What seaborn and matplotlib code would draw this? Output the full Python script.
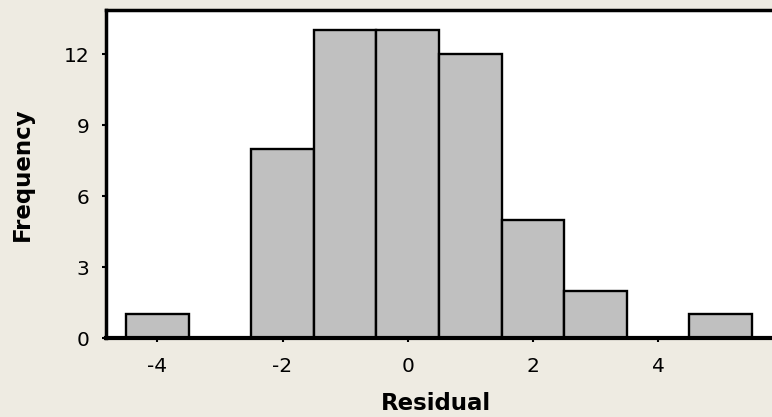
import numpy as np
import pandas as pd
import matplotlib
matplotlib.use("Agg")
import matplotlib.pyplot as plt
import seaborn as sns

# Residual histogram: bin centres and counts
bin_centers = [-4, -3, -2, -1, 0, 1, 2, 3, 4, 5]
counts = [1, 0, 8, 13, 13, 12, 5, 2, 0, 1]
x_ticks = [-4, -2, 0, 2, 4]
y_ticks = [0, 3, 6, 9, 12]

df = pd.DataFrame({"Residual": bin_centers, "Frequency": counts})
bin_edges = list(np.arange(min(bin_centers) - 0.5, max(bin_centers) + 1.0, 1.0))

sns.set_style("white")
plt.rcParams["font.family"] = ["DejaVu Sans"]
plt.rcParams["axes.unicode_minus"] = False

bg = "#EEEBE2"
W, H = 772, 417
fig = plt.figure(figsize=(W / 100, H / 100), dpi=100, facecolor=bg)
left_px, right_px, top_px, bottom_px = 106, 775, 10, 338
ax = fig.add_axes([left_px / W, 1 - bottom_px / H,
                   (right_px - left_px) / W, (bottom_px - top_px) / H])
ax.set_facecolor("white")

sns.histplot(data=df, x="Residual", weights="Frequency", bins=bin_edges, ax=ax,
             color="#C0C0C0", alpha=1.0, edgecolor="black", linewidth=1.7)

ax.set_xlim(-4.82, 5.867)
ax.set_ylim(0, 13.86)
ax.set_xticks(x_ticks)
ax.set_yticks(y_ticks)
ax.tick_params(axis="both", direction="out", length=3, width=1.5,
               labelsize=14.5, colors="black")
ax.tick_params(axis="x", pad=11)
ax.tick_params(axis="y", pad=9)
ax.tick_params(bottom=True, left=True)

for side in ["left", "top", "bottom"]:
    ax.spines[side].set_visible(True)
    ax.spines[side].set_color("black")
    ax.spines[side].set_linewidth(2.5)
ax.spines["bottom"].set_linewidth(3)
ax.spines["right"].set_visible(False)

ax.set_xlabel("Residual", fontsize=16.5, fontweight="bold", color="black")
ax.set_ylabel("Frequency", fontsize=16.5, fontweight="bold", color="black")
ax.xaxis.set_label_coords((436 - left_px) / (right_px - left_px),
                          -(392 - bottom_px) / (bottom_px - top_px))
ax.yaxis.set_label_coords(-(left_px - 34) / (right_px - left_px), 0.5)

fig.savefig("out.png", dpi=100, facecolor=bg)
